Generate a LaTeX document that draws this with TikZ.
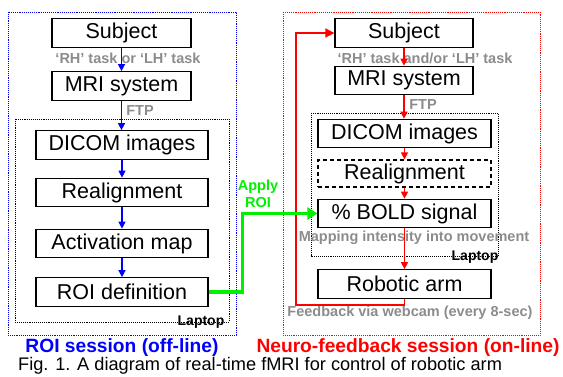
\documentclass[tikz,border=0pt]{standalone}
\usepackage{fontspec}
\setmainfont{Liberation Sans}
\usetikzlibrary{arrows.meta}
\definecolor{lblgray}{RGB}{140,140,140}
\definecolor{pblue}{RGB}{0,0,255}
\definecolor{pred}{RGB}{255,0,0}
\definecolor{pgreen}{RGB}{0,240,0}
\begin{document}
\begin{tikzpicture}[x=1pt,y=-1pt,
  box/.style={draw=black,line width=1.2pt,inner sep=0pt,minimum height=28.5pt,
    font=\fontsize{21.5}{22}\selectfont},
  lbl/.style={text=lblgray,inner sep=0pt,font=\fontsize{14.5}{15}\selectfont\bfseries},
  laptoplbl/.style={text=black,inner sep=0pt,font=\fontsize{14}{15}\selectfont\bfseries},
  title/.style={inner sep=0pt,font=\fontsize{19.2}{20}\selectfont\bfseries},
  barrow/.style={draw=pblue,line width=1.3pt,-{Triangle[length=7pt,width=7pt]}},
  rarrow/.style={draw=pred,line width=1.3pt,-{Triangle[length=7pt,width=7pt]}},
  laptopframe/.style={draw=black,line width=0.9pt,densely dotted},
]
\useasboundingbox (0,0) rectangle (563,377);
% outer frames
\draw[pblue,line width=0.9pt,densely dotted] (8,12) rectangle (236,335);
\draw[pred,line width=0.9pt,densely dotted] (283,12) rectangle (540,335);
% laptop frames
\draw[laptopframe] (15,119) rectangle (229,322);
\draw[laptopframe] (311,113) rectangle (498,256);

% labels
\node[lbl] (t1) at (128,58) {‘RH’ task or ‘LH’ task};
\node[lbl] (f1) at (140,111) {FTP};
\node[lbl] (t2) at (425,58) {‘RH’ task and/or ‘LH’ task};
\node[lbl] (f2) at (423,105) {FTP};
\node[lbl] (mp) at (414,238) {Mapping intensity into movement};
\node[lbl] (fb) at (410,313) {Feedback via webcam (every 8-sec)};
\node[laptoplbl] (lp1) at (201,322) {Laptop};
\node[laptoplbl] (lp2) at (475,257) {Laptop};
\node[text=pgreen,inner sep=0pt,align=center,font=\fontsize{14.5}{16.5}\selectfont\bfseries] (ap) at (258,194) {Apply\\ROI};
\node[title,text=pblue] (ts1) at (122,348) {ROI session (off-line)};
\node[title,text=pred] (ts2) at (408,348) {Neuro-feedback session (on-line)};
\node[anchor=west,inner sep=0pt,font=\fontsize{18.2}{19}\selectfont] (cap) at (18,366) {Fig. 1. A diagram of real-time fMRI for control of robotic arm};

% left boxes
\node[box,minimum width=139pt] (s1) at (121.5,33) {Subject};
\node[box,minimum width=139pt] (m1) at (121.5,86) {MRI system};
\node[box,minimum width=172pt] (d1) at (122,145) {DICOM images};
\node[box,minimum width=172pt] (r1) at (122,192.5) {Realignment};
\node[box,minimum width=172pt] (a1) at (122,243.5) {Activation map};
\node[box,minimum width=172pt] (o1) at (122,292) {ROI definition};

% right boxes
\node[box,minimum width=138pt] (s2) at (404,33) {Subject};
\node[box,minimum width=138pt] (m2) at (404,80.5) {MRI system};
\node[box,minimum width=173pt] (d2) at (404.5,133.5) {DICOM images};
\node[box,minimum width=173pt,dash pattern=on 4pt off 3pt,minimum height=27pt] (r2) at (404.5,173.5) {Realignment};
\node[box,minimum width=173pt] (b2) at (404.5,213.5) {\% BOLD signal};
\node[box,minimum width=173pt] (ra) at (404.5,284) {Robotic arm};

% left arrows
\draw[barrow] (s1) -- (m1);
\draw[barrow] (m1) -- (m1 |- d1.north);
\draw[barrow] (d1) -- (r1);
\draw[barrow] (r1) -- (a1);
\draw[barrow] (a1) -- (o1);

% right arrows
\draw[rarrow] (s2) -- (m2);
\draw[rarrow] (m2) -- (m2 |- d2.north);
\draw[rarrow] (d2) -- (r2);
\draw[rarrow] (r2) -- (b2);
\draw[rarrow] (b2) -- (ra);

% feedback loop
\coordinate (fbc) at (296,305);
\draw[draw=pred,line width=1.6pt,-{Triangle[length=9pt,width=9pt]}] (ra.south) |- (fbc) |- (s2.west);

% apply ROI
\draw[draw=pgreen,line width=3pt,-{Triangle[length=10pt,width=12pt]}] (o1.east) -- ++(34,0) |- (b2.west);
\end{tikzpicture}
\end{document}
